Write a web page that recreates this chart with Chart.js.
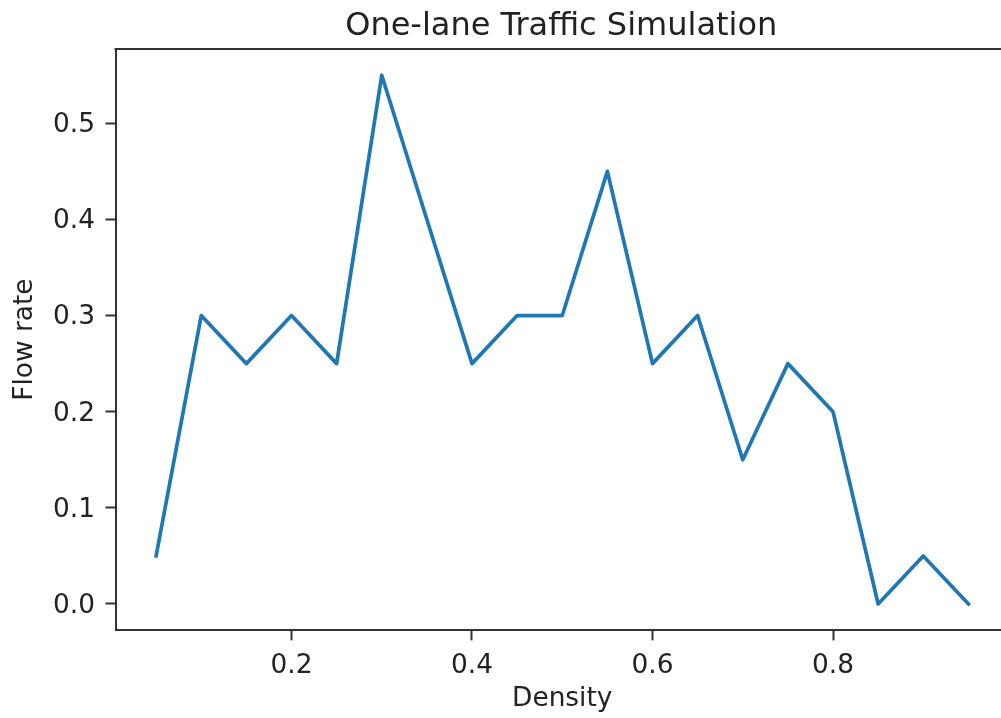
<!DOCTYPE html>
<html>
<head>
<meta charset="utf-8">
<title>One-lane Traffic Simulation</title>
<script src="https://cdn.jsdelivr.net/npm/chart.js@4/dist/chart.umd.min.js"></script>
<style>
  html, body { margin: 0; padding: 0; overflow: hidden; background: #fff; width: 1001px; height: 718px; }
  #wrap { position: absolute; left: 0; top: 0; width: 1012px; height: 718px; }
</style>
</head>
<body>
<div id="wrap"><canvas id="c" width="1012" height="718"></canvas></div>
<script>
// Simulated traffic: density of cars on the lane vs. resulting flow rate
const density  = [0.05, 0.10, 0.15, 0.20, 0.25, 0.30, 0.35, 0.40, 0.45, 0.50,
                  0.55, 0.60, 0.65, 0.70, 0.75, 0.80, 0.85, 0.90, 0.95];
const flowRate = [0.05, 0.30, 0.25, 0.30, 0.25, 0.55, 0.40, 0.25, 0.30, 0.30,
                  0.45, 0.25, 0.30, 0.15, 0.25, 0.20, 0.00, 0.05, 0.00];
const xTicks = [0.2, 0.4, 0.6, 0.8];
const yTicks = [0.0, 0.1, 0.2, 0.3, 0.4, 0.5];
const chartTitle = 'One-lane Traffic Simulation';

const FONT = 'DejaVu Sans';
const TEXT = '#222';
const AXIS = '#333';

Chart.defaults.font.family = FONT;
Chart.defaults.color = TEXT;

// Draws the top and right spines and a title centred over the plot area
const frame = {
  id: 'frame',
  afterDraw(chart) {
    const { ctx, chartArea: a } = chart;
    ctx.save();
    ctx.strokeStyle = AXIS;
    ctx.lineWidth = 2;
    ctx.beginPath();
    ctx.moveTo(a.left - 1, Math.round(a.top));
    ctx.lineTo(a.right + 1, Math.round(a.top));
    ctx.moveTo(Math.round(a.right), a.top);
    ctx.lineTo(Math.round(a.right), a.bottom);
    ctx.stroke();

    ctx.fillStyle = TEXT;
    ctx.font = '32px "' + FONT + '"';
    ctx.textAlign = 'center';
    ctx.textBaseline = 'alphabetic';
    ctx.fillText(chartTitle, (a.left + a.right) / 2 - 1, a.top - 14.3);
    ctx.restore();
  }
};

const points = density.map((d, i) => ({ x: d, y: flowRate[i] }));

new Chart(document.getElementById('c'), {
  type: 'line',
  data: {
    datasets: [{
      data: points,
      borderColor: '#1f77b4',
      borderWidth: 3.7,
      borderJoinStyle: 'round',
      borderCapStyle: 'square',
      pointRadius: 0,
      pointHoverRadius: 0,
      tension: 0,
      fill: false
    }]
  },
  options: {
    responsive: false,
    animation: false,
    devicePixelRatio: 1,
    events: [],
    layout: { padding: { left: 0, right: 3, top: 48.8, bottom: 0 } },
    plugins: {
      legend: { display: false },
      tooltip: { enabled: false },
      title: { display: false }
    },
    scales: {
      x: {
        type: 'linear',
        min: 0.005,
        max: 0.995,
        afterBuildTicks(scale) { scale.ticks = xTicks.map(v => ({ value: v })); },
        afterFit(scale) { scale.height = 87.6; },
        border: { display: true, color: AXIS, width: 2 },
        grid: { drawOnChartArea: false, drawTicks: true, tickLength: 10, tickColor: AXIS, tickWidth: 2 },
        ticks: {
          color: TEXT,
          padding: 9.5,
          maxRotation: 0,
          font: { family: FONT, size: 26.4 },
          callback: v => v.toFixed(1)
        },
        title: {
          display: true,
          text: 'Density',
          color: TEXT,
          font: { family: FONT, size: 26.4, lineHeight: 1.2 },
          padding: { top: 0, bottom: 2.7 }
        }
      },
      y: {
        type: 'linear',
        min: -0.0275,
        max: 0.5775,
        afterBuildTicks(scale) { scale.ticks = yTicks.map(v => ({ value: v })); },
        afterFit(scale) { scale.width = 115.5; },
        border: { display: true, color: AXIS, width: 2 },
        grid: { drawOnChartArea: false, drawTicks: true, tickLength: 10, tickColor: AXIS, tickWidth: 2 },
        ticks: {
          color: TEXT,
          padding: 10.5,
          labelOffset: 2,
          font: { family: FONT, size: 26.4 },
          callback: v => v.toFixed(1)
        },
        title: {
          display: true,
          text: 'Flow rate',
          color: TEXT,
          font: { family: FONT, size: 26.4, lineHeight: 1.2 },
          padding: { top: 9.7, bottom: 0 }
        }
      }
    }
  },
  plugins: [frame]
});
</script>
</body>
</html>
